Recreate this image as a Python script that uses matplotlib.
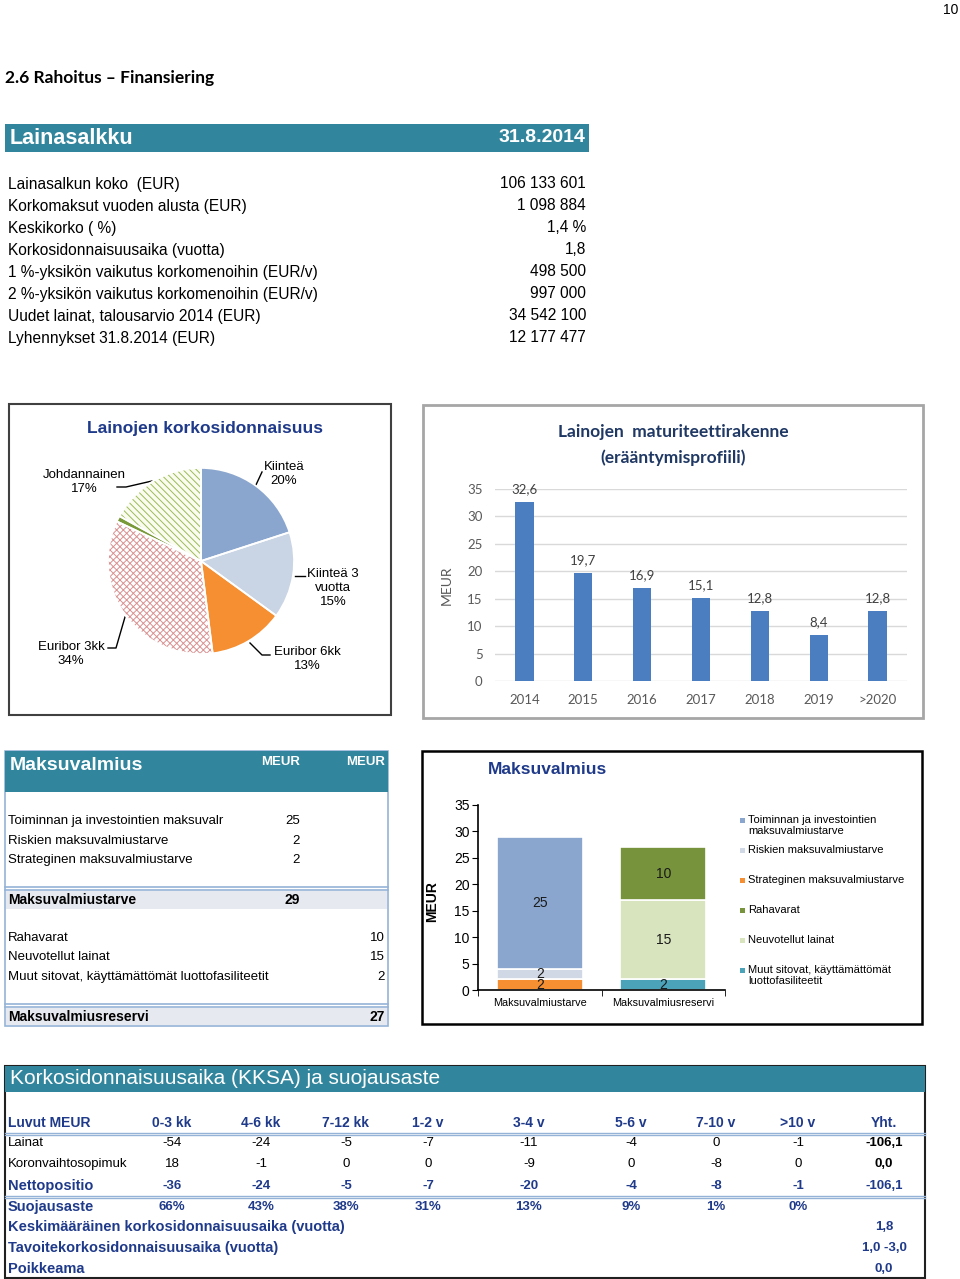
import matplotlib.pyplot as plt
from matplotlib.patches import Rectangle

W, H = 960, 1279

# --- Lainasalkku 31.8.2014 ---
portfolio_items = ['Lainasalkun koko  (EUR)', 'Korkomaksut vuoden alusta (EUR)', 'Keskikorko ( %)',
                   'Korkosidonnaisuusaika (vuotta)', '1 %-yksikön vaikutus korkomenoihin (EUR/v)',
                   '2 %-yksikön vaikutus korkomenoihin (EUR/v)', 'Uudet lainat, talousarvio 2014 (EUR)',
                   'Lyhennykset 31.8.2014 (EUR)']
portfolio_values = ['106 133 601', '1 098 884', '1,4 %', '1,8', '498 500', '997 000',
                    '34 542 100', '12 177 477']

# --- pie: Lainojen korkosidonnaisuus ---
fix_types = ['Kiinteä', 'Kiinteä 3\nvuotta', 'Euribor 6kk', 'Euribor 3kk', '', 'Johdannainen']
fix_shares = [20, 15, 13, 34, 1, 17]
fix_colors = ['#8AA6CE', '#C9D4E4', '#F58F31', '#FFFFFF', '#7A9A3A', '#FBFCF0']

# --- bars: maturiteettirakenne ---
maturity_years = ['2014', '2015', '2016', '2017', '2018', '2019', '>2020']
maturity_meur = [32.6, 19.7, 16.9, 15.1, 12.8, 8.4, 12.8]

# --- Maksuvalmius ---
liq_bars = ['Maksuvalmiustarve', 'Maksuvalmiusreservi']
need_labels = ['Toiminnan ja investointien maksuvalr', 'Riskien maksuvalmiustarve',
               'Strateginen maksuvalmiustarve']
need_values = [25, 2, 2]
need_colors = ['#8AA6CE', '#D0D8E6', '#F58F31']
reserve_labels = ['Rahavarat', 'Neuvotellut lainat', 'Muut sitovat, käyttämättömät luottofasiliteetit']
reserve_values = [10, 15, 2]
reserve_colors = ['#77933C', '#D7E4BD', '#4AA3B8']
legend_labels = ['Toiminnan ja investointien\nmaksuvalmiustarve', 'Riskien maksuvalmiustarve',
                 'Strateginen maksuvalmiustarve', 'Rahavarat', 'Neuvotellut lainat',
                 'Muut sitovat, käyttämättömät\nluottofasiliteetit']

# --- KKSA ---
kksa_cols = ['0-3 kk', '4-6 kk', '7-12 kk', '1-2 v', '3-4 v', '5-6 v', '7-10 v', '>10 v', 'Yht.']
lainat = ['-54', '-24', '-5', '-7', '-11', '-4', '0', '-1', '-106,1']
swaps = ['18', '-1', '0', '0', '-9', '0', '-8', '0', '0,0']
netto = ['-36', '-24', '-5', '-7', '-20', '-4', '-8', '-1', '-106,1']
suojaus = ['66%', '43%', '38%', '31%', '13%', '9%', '1%', '0%']
kksa_summary = [('Keskimääräinen korkosidonnaisuusaika (vuotta)', '1,8'),
                ('Tavoitekorkosidonnaisuusaika (vuotta)', '1,0 -3,0'),
                ('Poikkeama', '0,0')]

TEAL = '#31859C'
NAVY = '#1F3A8A'
LINE = '#95B3D7'
SANS = ['Liberation Sans', 'DejaVu Sans']
CAL = ['Lato', 'DejaVu Sans']

plt.rcParams['font.family'] = SANS
plt.rcParams['hatch.linewidth'] = 0.7

fig = plt.figure(figsize=(9.6, 12.79), dpi=100)
ax0 = fig.add_axes([0, 0, 1, 1])
ax0.set_xlim(0, W)
ax0.set_ylim(H, 0)
ax0.axis('off')


def box(x0, y0, x1, y1, fc='none', ec='none', lw=1.0):
    ax0.add_patch(Rectangle((x0, y0), x1 - x0, y1 - y0, facecolor=fc, edgecolor=ec, linewidth=lw))


def hline(y, x0, x1, color=LINE, lw=1.0):
    ax0.plot([x0, x1], [y, y], color=color, lw=lw)


def txt(x, y, s, size=10, ha='left', color='black', weight='normal', family=None, **kw):
    ax0.text(x, y, s, fontsize=size, ha=ha, va='center', color=color, fontweight=weight,
             family=family or SANS, **kw)


# page header
txt(951, 10, '10', size=10, ha='center')
txt(5, 78, '2.6 Rahoitus – Finansiering', size=12.5, weight='bold', family=CAL)

# Lainasalkku table
box(5, 124, 589, 152, fc=TEAL)
txt(10, 139, 'Lainasalkku', size=15.5, weight='bold', color='white')
txt(585, 137, '31.8.2014', size=14, weight='bold', color='white', ha='right')
for i, (lab, val) in enumerate(zip(portfolio_items, portfolio_values)):
    y = 184 + 22 * i
    txt(8, y, lab, size=11.2)
    txt(586, y, val, size=11.2, ha='right')

# ---------------- pie chart ----------------
box(9, 404, 391, 715, fc='white', ec='#404040', lw=1.5)
txt(205, 429, 'Lainojen korkosidonnaisuus', size=12.5, weight='bold', color=NAVY, ha='center')

r_px = 94
axp = fig.add_axes([(201 - r_px) / W, 1 - (561 + r_px) / H, 2 * r_px / W, 2 * r_px / H])
wedges, _ = axp.pie(fix_shares, startangle=90, counterclock=False, colors=fix_colors,
                    wedgeprops=dict(linewidth=0))
wedges[3].set_hatch('xxxxx')
wedges[3].set_edgecolor('#D99292')
wedges[5].set_hatch('\\\\\\\\\\')
wedges[5].set_edgecolor('#9BBB59')
for w in wedges:
    w.set_linewidth(0)
axp.pie(fix_shares, startangle=90, counterclock=False, colors=['none'] * 6,
        wedgeprops=dict(edgecolor='white', linewidth=1.3))
axp.set_xlim(-1.01, 1.01)
axp.set_ylim(-1.01, 1.01)

pie_label_pos = [(284, 474), (333, 588), (307, 659), (71, 654), None, (84, 482)]
for lab, share, pos in zip(fix_types, fix_shares, pie_label_pos):
    if pos is None:
        continue
    txt(pos[0], pos[1], f'{lab}\n{share}%', size=9.5, ha='center', linespacing=1.2)
leaders = [[(255, 487), (262, 472)],
           [(295, 576), (305, 576)],
           [(250, 643), (262, 655), (270, 655)],
           [(125, 617), (116, 648), (108, 648)],
           [(152, 481), (126, 487), (117, 487)]]
for pts in leaders:
    ax0.plot([p[0] for p in pts], [p[1] for p in pts], color='black', lw=1.0)

# ---------------- maturity bar chart ----------------
box(423, 405, 923, 718, fc='white', ec='#A6A6A6', lw=2)
txt(673, 432, 'Lainojen  maturiteettirakenne', size=12.5, weight='bold', color='#1F3864',
    ha='center', family=CAL)
txt(673, 458, '(erääntymisprofiili)', size=12.5, weight='bold', color='#1F3864',
    ha='center', family=CAL)

axb = fig.add_axes([495 / W, 1 - 681 / H, 412 / W, 192 / H])
axb.set_facecolor('none')
bars = axb.bar(range(len(maturity_years)), maturity_meur, width=0.31, color='#4A7EC1')
axb.bar_label(bars, labels=[f'{v:.1f}'.replace('.', ',') for v in maturity_meur], padding=5,
              fontsize=9.5, color='#404040', family=CAL)
axb.set_xlim(-0.5, len(maturity_years) - 0.5)
axb.set_ylim(0, 35)
axb.set_yticks(range(0, 36, 5))
axb.set_xticks(range(len(maturity_years)))
axb.set_xticklabels(maturity_years)
axb.grid(axis='y', color='#D9D9D9', lw=1)
axb.set_axisbelow(True)
for s in axb.spines.values():
    s.set_visible(False)
axb.tick_params(length=0, labelsize=9.5, labelcolor='#595959', pad=9)
for t in axb.get_xticklabels() + axb.get_yticklabels():
    t.set_family(CAL)
axb.set_ylabel('MEUR', fontsize=10, color='#595959', family=CAL)
axb.yaxis.set_label_coords(-(495 - 453) / 412, (681 - 585) / 192)

# ---------------- Maksuvalmius table ----------------
box(5, 751, 388, 1026, fc='white', ec=LINE, lw=1.2)
box(5, 751, 388, 792, fc=TEAL)
txt(10, 766, 'Maksuvalmius', size=14, weight='bold', color='white')
txt(281, 762, 'MEUR', size=9.5, weight='bold', color='white', ha='center')
txt(366, 762, 'MEUR', size=9.5, weight='bold', color='white', ha='center')
for i, (lab, val) in enumerate(zip(need_labels, need_values)):
    y = 821 + 19.5 * i
    txt(8, y, lab, size=9.5)
    txt(300, y, str(val), size=9.5, ha='right')
hline(886.5, 5, 388, lw=1.2)
hline(889.5, 5, 388, lw=1.2)
box(6, 890.5, 387, 908.5, fc='#E6E9EF')
txt(8, 900, 'Maksuvalmiustarve', size=10, weight='bold')
txt(300, 900, str(sum(need_values)), size=10, weight='bold', ha='right')
for i, (lab, val) in enumerate(zip(reserve_labels, reserve_values)):
    y = 938 + 19.3 * i
    txt(8, y, lab, size=9.5)
    txt(385, y, str(val), size=9.5, ha='right')
hline(1003.5, 5, 388, lw=1.2)
hline(1006.5, 5, 388, lw=1.2)
box(6, 1007.5, 387, 1025, fc='#E6E9EF')
txt(8, 1017, 'Maksuvalmiusreservi', size=10, weight='bold')
txt(385, 1017, str(sum(reserve_values)), size=10, weight='bold', ha='right')

# ---------------- Maksuvalmius stacked chart ----------------
box(422, 751, 922, 1024, fc='white', ec='black', lw=1.8)
txt(488, 770, 'Maksuvalmius', size=12.5, weight='bold', color=NAVY)

axs = fig.add_axes([478 / W, 1 - 990 / H, 247 / W, 185 / H])
axs.set_facecolor('none')
for xi, (vals, cols) in enumerate([(need_values, need_colors), (reserve_values, reserve_colors)]):
    bottom = 0
    for v, c in zip(vals[::-1], cols[::-1]):
        b = axs.bar(xi, v, bottom=bottom, width=0.7, color=c, edgecolor='white', linewidth=1.2)
        axs.bar_label(b, label_type='center', fontsize=10, color='#1A1A1A')
        bottom += v
axs.set_xlim(-0.5, 1.5)
axs.set_ylim(0, 35)
axs.set_yticks(range(0, 36, 5))
axs.set_xticks([0, 1])
axs.set_xticklabels(liq_bars, fontsize=7.8)
axs.set_xticks([-0.5, 0.5, 1.5], minor=True)
axs.tick_params(axis='x', which='major', length=0, pad=6)
axs.tick_params(axis='x', which='minor', length=4, direction='out')
axs.tick_params(axis='y', labelsize=10, length=4, direction='out', pad=2)
for s in ['top', 'right']:
    axs.spines[s].set_visible(False)
axs.spines['left'].set_linewidth(1.2)
axs.spines['bottom'].set_linewidth(1.2)
axs.set_ylabel('MEUR', fontsize=10, fontweight='bold')
axs.yaxis.set_label_coords(-(478 - 439) / 247, (990 - 902) / 185)

legend_colors = need_colors + reserve_colors
legend_y = [821, 851, 881, 911, 941, 971]
for lab, c, y in zip(legend_labels, legend_colors, legend_y):
    box(740, y - 3, 745, y + 2, fc=c)
    ax0.text(748, y - 6, lab, fontsize=8, va='top', ha='left', family=SANS, linespacing=1.1)

# ---------------- KKSA table ----------------
box(5, 1066, 925, 1278, fc='white', ec='#202020', lw=1.5)
box(5, 1066, 925, 1092, fc=TEAL)
txt(10, 1079, 'Korkosidonnaisuusaika (KKSA) ja suojausaste', size=15, color='white')
col_x = [172, 261, 346, 428, 529, 631, 716, 798, 884]
txt(8, 1123, 'Luvut MEUR', size=10, weight='bold', color=NAVY)
for x, c in zip(col_x, kksa_cols):
    txt(x, 1123, c, size=10, weight='bold', color=NAVY, ha='center')
hline(1132.5, 5, 925, lw=1.0)
hline(1135, 5, 925, lw=1.0)
txt(8, 1143, 'Lainat', size=9.5)
txt(8, 1164, 'Koronvaihtosopimuk', size=9.5)
for i, x in enumerate(col_x):
    last = i == len(col_x) - 1
    txt(x, 1143, lainat[i], size=9.5, ha='center', weight='bold' if last else 'normal')
    txt(x, 1164, swaps[i], size=9.5, ha='center', weight='bold' if last else 'normal')
    txt(x, 1186, netto[i], size=9.5, ha='center', weight='bold', color=NAVY)
txt(8, 1186, 'Nettopositio', size=10.5, weight='bold', color=NAVY)
hline(1195.5, 5, 925, lw=1.0)
hline(1198, 5, 925, lw=1.0)
txt(8, 1207, 'Suojausaste', size=10.5, weight='bold', color=NAVY)
for x, s in zip(col_x, suojaus):
    txt(x, 1207, s, size=9.5, ha='center', weight='bold', color=NAVY)
for i, (lab, val) in enumerate(kksa_summary):
    y = 1227 + 21 * i
    txt(8, y, lab, size=10.5, weight='bold', color=NAVY)
    txt(col_x[-1], y, val, size=9.5, weight='bold', color=NAVY, ha='center')

fig.savefig('out.png', dpi=100)
